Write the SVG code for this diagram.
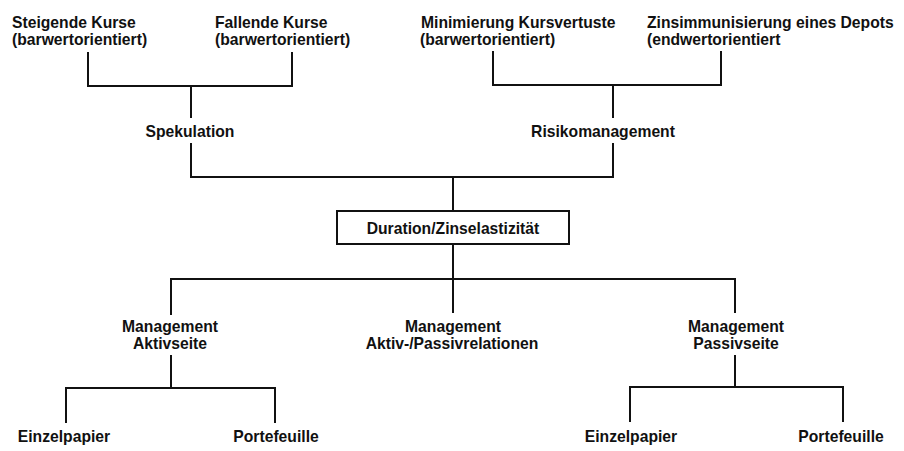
<svg xmlns="http://www.w3.org/2000/svg" width="904" height="451" viewBox="0 0 904 451">
<style>
text{font-family:"Liberation Sans",Arial,Helvetica,sans-serif;font-size:15.7px;font-weight:bold;fill:#111}
.c{text-anchor:middle}
.ln{fill:none;stroke:#111;stroke-width:2}
</style>
<rect width="904" height="451" fill="#fff"/>
<g id="connectors" class="ln">
<path d="M88,52 V86 H292 V52"/>
<path d="M191,86 V118"/>
<path d="M493,51 V85 H721 V51"/>
<path d="M613,85 V118"/>
<path d="M191,143 V177 H613 V143"/>
<path d="M453,177 V211"/>
<path d="M453,244 V279"/>
<path d="M171,315 V279 H735 V313"/>
<path d="M453,279 V313"/>
<path d="M171,355 V388"/>
<path d="M66,423 V388 H275 V423"/>
<path d="M735,355 V387"/>
<path d="M630,422 V387 H843 V422"/>
</g>
<g id="steigende"><text x="12" y="28">Steigende Kurse</text><text x="12" y="45">(barwertorientiert)</text></g>
<g id="fallende"><text x="215" y="28">Fallende Kurse</text><text x="215" y="45">(barwertorientiert)</text></g>
<g id="minimierung"><text x="421" y="28">Minimierung Kursvertuste</text><text x="420" y="45">(barwertorientiert)</text></g>
<g id="zinsimmunisierung"><text x="647" y="28">Zinsimmunisierung eines Depots</text><text x="647" y="45">(endwertorientiert</text></g>
<g id="spekulation"><text class="c" x="190" y="137">Spekulation</text></g>
<g id="risikomanagement"><text class="c" x="603" y="137">Risikomanagement</text></g>
<g id="duration"><rect x="337" y="211" width="232" height="33" fill="#fff" stroke="#111" stroke-width="2"/><text class="c" x="453" y="234">Duration/Zinselastizität</text></g>
<g id="aktivseite"><text class="c" x="170" y="332">Management</text><text class="c" x="170" y="349">Aktivseite</text></g>
<g id="relationen"><text class="c" x="453" y="332">Management</text><text class="c" x="452" y="349">Aktiv-/Passivrelationen</text></g>
<g id="passivseite"><text class="c" x="736" y="332">Management</text><text class="c" x="736" y="349">Passivseite</text></g>
<g id="einzel1"><text class="c" x="64" y="442">Einzelpapier</text></g>
<g id="porte1"><text class="c" x="276" y="442">Portefeuille</text></g>
<g id="einzel2"><text class="c" x="631" y="442">Einzelpapier</text></g>
<g id="porte2"><text class="c" x="841" y="442">Portefeuille</text></g>
</svg>
